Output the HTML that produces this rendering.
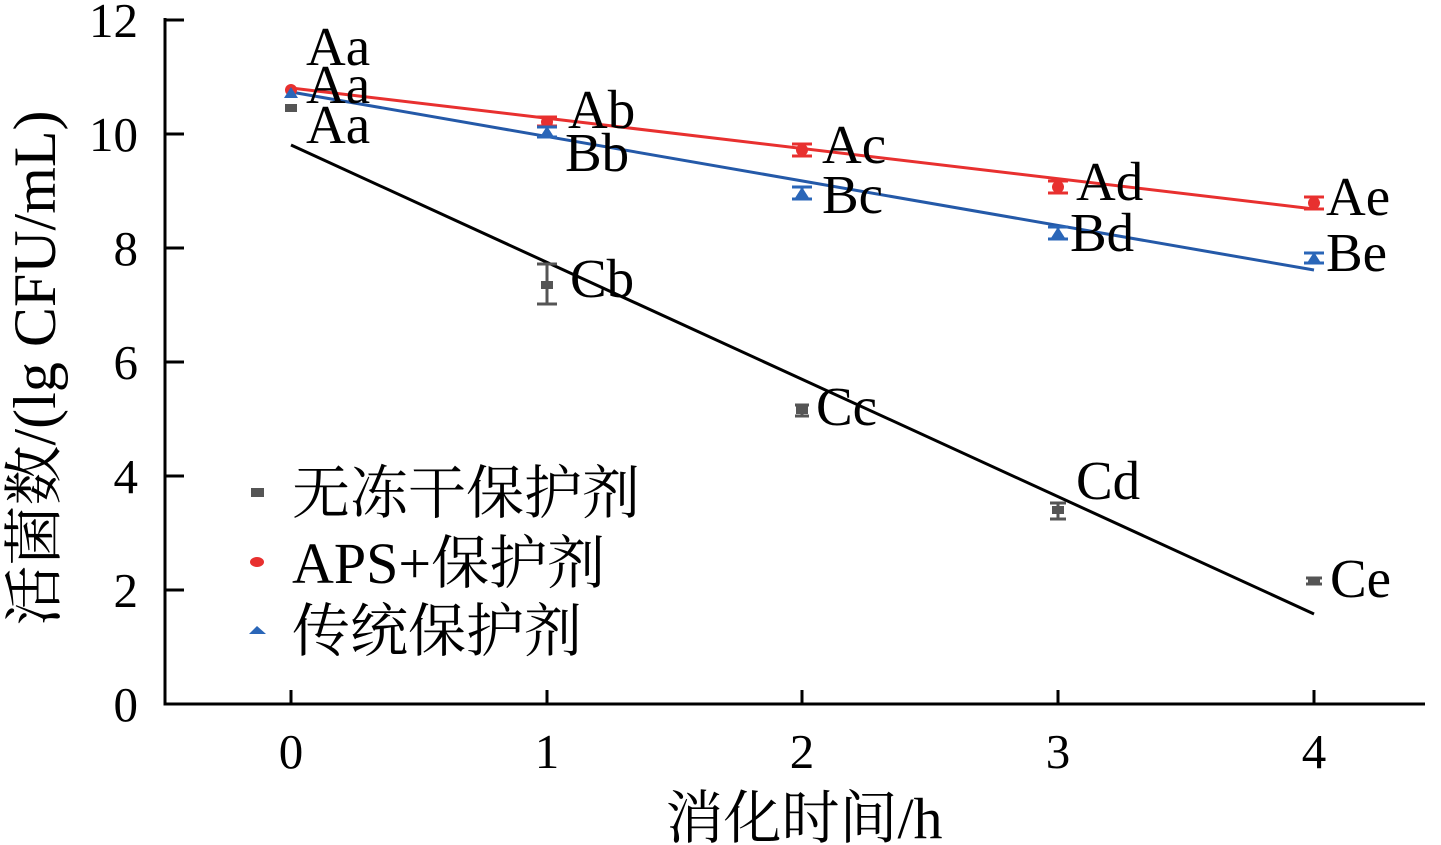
<!DOCTYPE html>
<html><head><meta charset="utf-8"><style>body{margin:0;background:#fff}svg{display:block}</style></head><body>
<svg width="1441" height="845" viewBox="0 0 1441 845" xmlns="http://www.w3.org/2000/svg" font-family="'Liberation Serif','Noto Serif CJK SC',serif">
<g stroke="#000" stroke-width="3" fill="none">
<path d="M165,18 V704 H1425"/>
<path d="M165,20 H184 M165,134 H184 M165,248 H184 M165,362 H184 M165,476 H184 M165,590 H184"/>
<path d="M291,704 V690 M547,704 V690 M802,704 V690 M1058,704 V690 M1314,704 V690"/>
</g>
<g font-size="49" text-anchor="end" fill="#000">
<text x="138" y="37">12</text><text x="138" y="151">10</text><text x="138" y="265">8</text><text x="138" y="379">6</text><text x="138" y="493">4</text><text x="138" y="607">2</text><text x="138" y="721">0</text>
</g>
<g font-size="49" text-anchor="middle" fill="#000">
<text x="291" y="768">0</text><text x="547" y="768">1</text><text x="802" y="768">2</text><text x="1058" y="768">3</text><text x="1314" y="768">4</text>
</g>
<text x="804" y="838" font-size="58" text-anchor="middle">消化时间/h</text>
<text transform="translate(55,368) rotate(-90)" font-size="60" text-anchor="middle">活菌数/(lg CFU/mL)</text>
<line x1="291" y1="145" x2="1314" y2="614" stroke="#000" stroke-width="3"/>
<line x1="291" y1="88" x2="1314" y2="209" stroke="#e8302f" stroke-width="3"/>
<line x1="291" y1="92" x2="1314" y2="270" stroke="#2459a8" stroke-width="3"/>
<g stroke="#555" stroke-width="3">
<path d="M537,264 H557 M547,264 V304 M537,304 H557"/>
<path d="M795,405 H809 M802,405 V416 M795,416 H809"/>
<path d="M1050,503 H1066 M1058,503 V519 M1050,519 H1066"/>
<path d="M1306,578 H1322 M1314,578 V584 M1306,584 H1322"/>
</g>
<g fill="#555"><rect x="285" y="104" width="12" height="8"/><rect x="541" y="281" width="12" height="8"/><rect x="796" y="406" width="12" height="8"/><rect x="1052" y="506" width="12" height="8"/><rect x="1308" y="577" width="12" height="8"/></g>
<g stroke="#e8302f" stroke-width="3">
<path d="M537,117 H557 M547,117 V126 M537,126 H557"/>
<path d="M792,144 H812 M802,144 V156 M792,156 H812"/>
<path d="M1048,181 H1068 M1058,181 V193 M1048,193 H1068"/>
<path d="M1304,197 H1324 M1314,197 V209 M1304,209 H1324"/>
</g>
<g fill="#e8302f"><circle cx="291" cy="90" r="6"/><circle cx="547" cy="122" r="6"/><circle cx="802" cy="150" r="6"/><circle cx="1058" cy="187" r="6"/><circle cx="1314" cy="203" r="6"/></g>
<g stroke="#2a66b8" stroke-width="3">
<path d="M537,127 H557 M547,127 V137 M537,137 H557"/>
<path d="M792,187 H812 M802,187 V199 M792,199 H812"/>
<path d="M1048,227 H1068 M1058,227 V239 M1048,239 H1068"/>
<path d="M1304,253 H1324 M1314,253 V263 M1304,263 H1324"/>
</g>
<g fill="#2a66b8"><path d="M284,98 L291,87 L298,98Z"/><path d="M540,137 L547,126 L554,137Z"/><path d="M795,198 L802,187 L809,198Z"/><path d="M1051,238 L1058,227 L1065,238Z"/><path d="M1307,263 L1314,252 L1321,263Z"/></g>
<g font-size="55" fill="#000">
<text x="306" y="65">Aa</text><text x="306" y="103">Aa</text><text x="306" y="143">Aa</text>
<text x="568" y="128">Ab</text><text x="565" y="171">Bb</text><text x="570" y="297">Cb</text>
<text x="822" y="163">Ac</text><text x="822" y="213">Bc</text><text x="816" y="425">Cc</text>
<text x="1076" y="200">Ad</text><text x="1070" y="251">Bd</text><text x="1076" y="499">Cd</text>
<text x="1326" y="215">Ae</text><text x="1326" y="271">Be</text><text x="1330" y="597">Ce</text>
</g>
<rect x="251" y="488" width="13" height="9" fill="#555"/>
<ellipse cx="257" cy="562" rx="7" ry="5" fill="#e8302f"/>
<path d="M249,634 L257,626 L266,634Z" fill="#2a66b8"/>
<g font-size="58" fill="#000">
<text x="292" y="513">无冻干保护剂</text>
<text x="292" y="583">APS+保护剂</text>
<text x="292" y="651">传统保护剂</text>
</g>
</svg>
</body></html>
